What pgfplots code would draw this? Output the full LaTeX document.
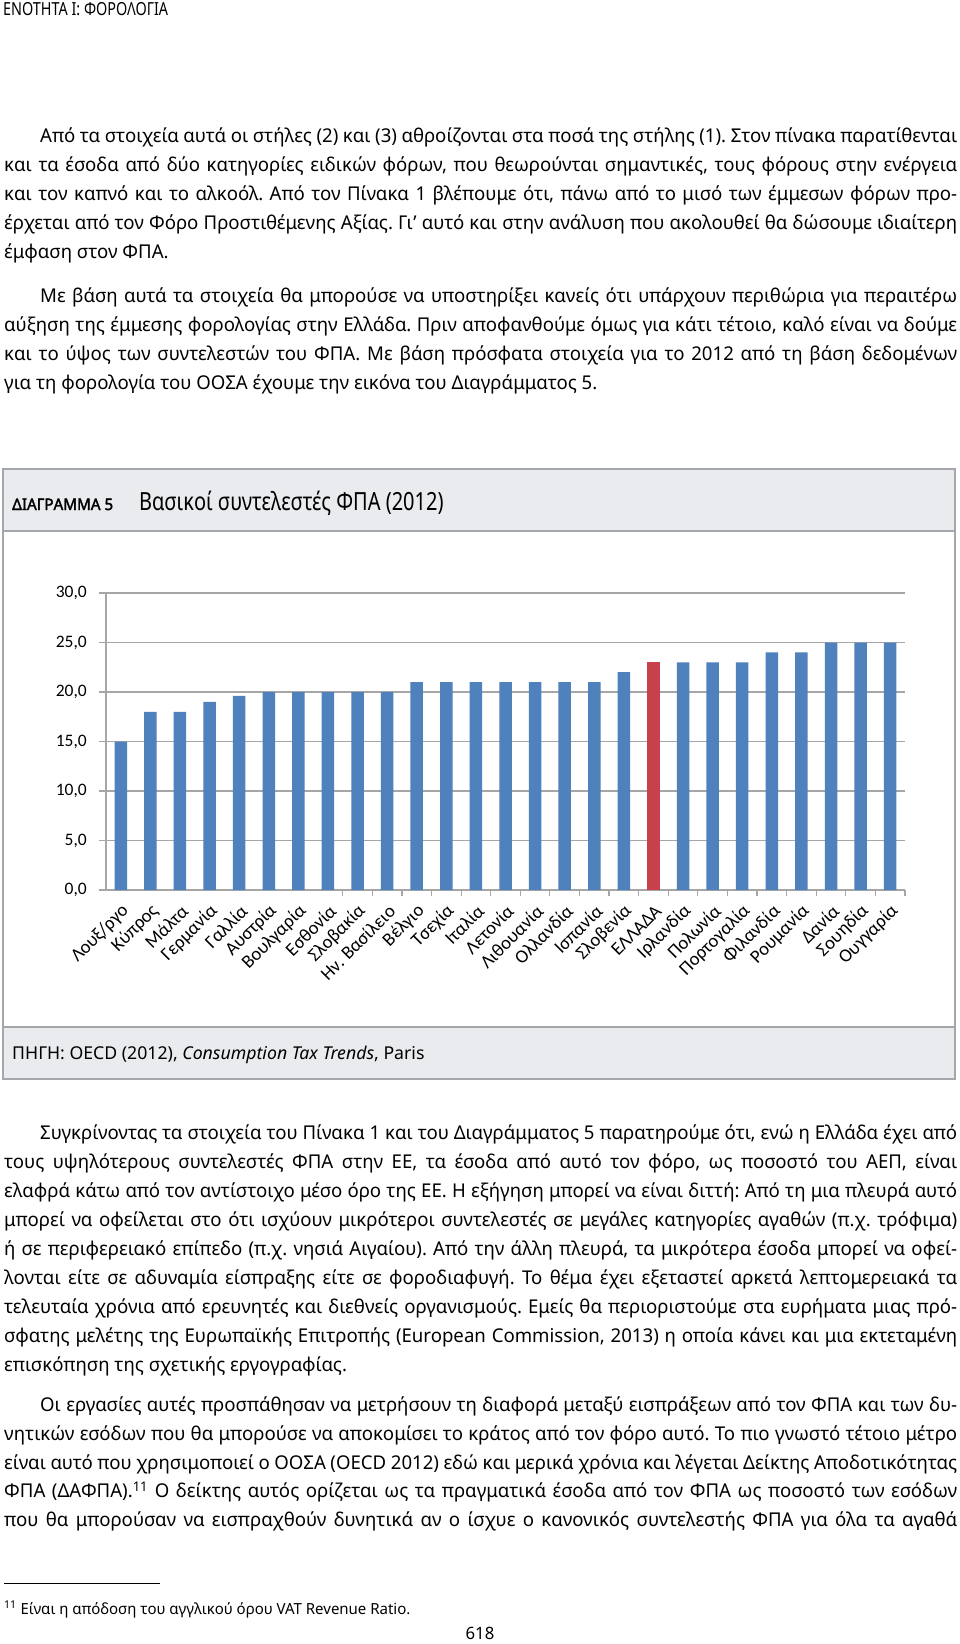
\documentclass[border=0pt]{standalone}
\usepackage{fontspec}
\setmainfont{Noto Sans}[FakeStretch=0.98]
\newfontfamily\plainfont{Noto Sans}
\newfontfamily\condfont{Noto Sans}[FakeStretch=0.8]
\newfontfamily\titlebold{Noto Sans}[FakeStretch=0.95,FakeBold=2.2]
\newfontfamily\chartfont{Carlito}
\usepackage{pgfplots}
\pgfplotsset{compat=1.18}
\definecolor{barblue}{HTML}{4F81BD}
\definecolor{barred}{HTML}{C9404D}
\definecolor{gridgray}{HTML}{A6A6A6}
\definecolor{boxgray}{HTML}{A3A7AC}
\definecolor{bandgray}{HTML}{E9EBEE}
\frenchspacing
\newcommand{\bodyfont}{\fontsize{19}{23}\selectfont}
\newcommand{\jl}[4]{\node[anchor=base west,inner sep=0pt,font=\bodyfont] at (#1,-#2) {\makebox[#3pt][s]{#4}};}
\newcommand{\lastl}[3]{\node[anchor=base west,inner sep=0pt,font=\bodyfont] at (#1,-#2) {#3};}
\begin{document}
\begin{tikzpicture}[x=1pt,y=1pt]
\path[use as bounding box] (0,0) rectangle (960,-1644);
% header
\node[anchor=base west,inner sep=0pt,font=\condfont\fontsize{18}{21}\selectfont] at (3,-15) {ΕΝΟΤΗΤΑ Ι: ΦΟΡΟΛΟΓΙΑ};
% paragraph 1
\jl{40}{142}{917}{Από τα στοιχεία αυτά οι στήλες (2) και (3) αθροίζονται στα ποσά της στήλης (1). Στον πίνακα παρατίθενται}
\jl{4}{171}{953}{και τα έσοδα από δύο κατηγορίες ειδικών φόρων, που θεωρούνται σημαντικές, τους φόρους στην ενέργεια}
\jl{4}{200}{953}{και τον καπνό και το αλκοόλ. Από τον Πίνακα 1 βλέπουμε ότι, πάνω από το μισό των έμμεσων φόρων προ-}
\jl{4}{229}{953}{έρχεται από τον Φόρο Προστιθέμενης Αξίας. Γι' αυτό και στην ανάλυση που ακολουθεί θα δώσουμε ιδιαίτερη}
\lastl{4}{258}{έμφαση στον ΦΠΑ.}
% paragraph 2
\jl{40}{302.5}{917}{Με βάση αυτά τα στοιχεία θα μπορούσε να υποστηρίξει κανείς ότι υπάρχουν περιθώρια για περαιτέρω}
\jl{4}{331.3}{953}{αύξηση της έμμεσης φορολογίας στην Ελλάδα. Πριν αποφανθούμε όμως για κάτι τέτοιο, καλό είναι να δούμε}
\jl{4}{360.1}{953}{και το ύψος των συντελεστών του ΦΠΑ. Με βάση πρόσφατα στοιχεία για το 2012 από τη βάση δεδομένων}
\lastl{4}{389}{για τη φορολογία του ΟΟΣΑ έχουμε την εικόνα του Διαγράμματος 5.}
% chart frame
\draw[boxgray,line width=1.2pt,fill=white] (3,-469) rectangle (955,-1079);
\draw[boxgray,line width=1.2pt,fill=bandgray] (3,-469) rectangle (955,-531);
\draw[boxgray,line width=1.2pt,fill=bandgray] (3,-1027) rectangle (955,-1079);
\node[anchor=base west,inner sep=0pt,font=\titlebold\fontsize{16}{18}\selectfont] at (12,-510) {ΔΙΑΓΡΑΜΜΑ 5};
\node[anchor=base west,inner sep=0pt,font=\condfont\fontsize{25}{28}\selectfont] at (139,-510) {Βασικοί συντελεστές ΦΠΑ (2012)};
\node[anchor=base west,inner sep=0pt,font=\plainfont\fontsize{17.7}{21}\selectfont] at (12,-1059) {ΠΗΓΗ: OECD (2012), \textit{Consumption Tax Trends}, Paris};
\begin{axis}[
  at={(106pt,-890pt)}, anchor=south west,
  scale only axis, width=799pt, height=297pt,
  xmin=-0.5, xmax=26.5, ymin=0, ymax=30,
  axis x line*=bottom, axis y line*=left,
  axis line style={gridgray,line width=1.2pt},
  ymajorgrids, grid style={gridgray,line width=1.2pt},
  xtick={0,...,26},
  xticklabels={Λουξ/ργο,Κύπρος,Μάλτα,Γερμανία,Γαλλία,Αυστρία,Βουλγαρία,Εσθονία,Σλοβακία,Ην. Βασίλειο,Βέλγιο,Τσεχία,Ιταλία,Λετονία,Λιθουανία,Ολλανδία,Ισπανία,Σλοβενία,ΕΛΛΑΔΑ,Ιρλανδία,Πολωνία,Πορτογαλία,Φιλανδία,Ρουμανία,Δανία,Σουηδία,Ουγγαρία},
  minor xtick={7.5,8.5,...,26.5},
  ytick={0,5,...,30},
  yticklabels={{0,0},{5,0},{10,0},{15,0},{20,0},{25,0},{30,0}},
  major tick length=7pt, minor tick length=6pt,
  xtick align=outside, ytick align=outside,
  tick style={gridgray,line width=1.2pt},
  major x tick style={draw=none},
  xticklabel style={font=\chartfont\fontsize{18.7}{21}\selectfont, xshift=5pt, rotate=45, anchor=east, inner sep=0pt},
  xticklabel shift=11pt,
  yticklabel style={font=\chartfont\fontsize{17.5}{20}\selectfont, anchor=east, inner sep=0pt},
  yticklabel shift=12pt,
  clip=false,
]
\addplot[ybar, bar width=12.5pt, bar shift=0pt, fill=barblue, draw=none] coordinates {
(0,15) (1,18) (2,18) (3,19) (4,19.6) (5,20) (6,20) (7,20) (8,20) (9,20)
(10,21) (11,21) (12,21) (13,21) (14,21) (15,21) (16,21) (17,22)
(19,23) (20,23) (21,23) (22,24) (23,24) (24,25) (25,25) (26,25)};
\addplot[ybar, bar width=12.5pt, bar shift=0pt, fill=barred, draw=none] coordinates {(18,23)};
\end{axis}
% paragraph 3
\jl{40}{1139}{917}{Συγκρίνοντας τα στοιχεία του Πίνακα 1 και του Διαγράμματος 5 παρατηρούμε ότι, ενώ η Ελλάδα έχει από}
\jl{4}{1168}{953}{τους υψηλότερους συντελεστές ΦΠΑ στην ΕΕ, τα έσοδα από αυτό τον φόρο, ως ποσοστό του ΑΕΠ, είναι}
\jl{4}{1197.1}{953}{ελαφρά κάτω από τον αντίστοιχο μέσο όρο της ΕΕ. Η εξήγηση μπορεί να είναι διττή: Από τη μια πλευρά αυτό}
\jl{4}{1226.2}{953}{μπορεί να οφείλεται στο ότι ισχύουν μικρότεροι συντελεστές σε μεγάλες κατηγορίες αγαθών (π.χ. τρόφιμα)}
\jl{4}{1255.2}{953}{ή σε περιφερειακό επίπεδο (π.χ. νησιά Αιγαίου). Από την άλλη πλευρά, τα μικρότερα έσοδα μπορεί να οφεί-}
\jl{4}{1284.3}{953}{λονται είτε σε αδυναμία είσπραξης είτε σε φοροδιαφυγή. Το θέμα έχει εξεταστεί αρκετά λεπτομερειακά τα}
\jl{4}{1313.3}{953}{τελευταία χρόνια από ερευνητές και διεθνείς οργανισμούς. Εμείς θα περιοριστούμε στα ευρήματα μιας πρό-}
\jl{4}{1342.4}{953}{σφατης μελέτης της Ευρωπαϊκής Επιτροπής (European Commission, 2013) η οποία κάνει και μια εκτεταμένη}
\lastl{4}{1371.4}{επισκόπηση της σχετικής εργογραφίας.}
% paragraph 4
\jl{40}{1411.4}{917}{Οι εργασίες αυτές προσπάθησαν να μετρήσουν τη διαφορά μεταξύ εισπράξεων από τον ΦΠΑ και των δυ-}
\jl{4}{1440.2}{953}{νητικών εσόδων που θα μπορούσε να αποκομίσει το κράτος από τον φόρο αυτό. Το πιο γνωστό τέτοιο μέτρο}
\jl{4}{1469}{953}{είναι αυτό που χρησιμοποιεί ο ΟΟΣΑ (OECD 2012) εδώ και μερικά χρόνια και λέγεται Δείκτης Αποδοτικότητας}
\jl{4}{1497.8}{953}{ΦΠΑ (ΔΑΦΠΑ).\textsuperscript{11} Ο δείκτης αυτός ορίζεται ως τα πραγματικά έσοδα από τον ΦΠΑ ως ποσοστό των εσόδων}
\jl{4}{1526.6}{953}{που θα μπορούσαν να εισπραχθούν δυνητικά αν ο ίσχυε ο κανονικός συντελεστής ΦΠΑ για όλα τα αγαθά}
% footnote
\draw[black,line width=1pt] (4,-1583) -- (160,-1583);
\node[anchor=base west,inner sep=0pt,font=\fontsize{15.3}{19}\selectfont] at (4,-1614) {\textsuperscript{11} Είναι η απόδοση του αγγλικού όρου VAT Revenue Ratio.};
\node[anchor=base,inner sep=0pt,font=\fontsize{17}{20}\selectfont] at (480,-1639) {618};
\end{tikzpicture}
\end{document}
